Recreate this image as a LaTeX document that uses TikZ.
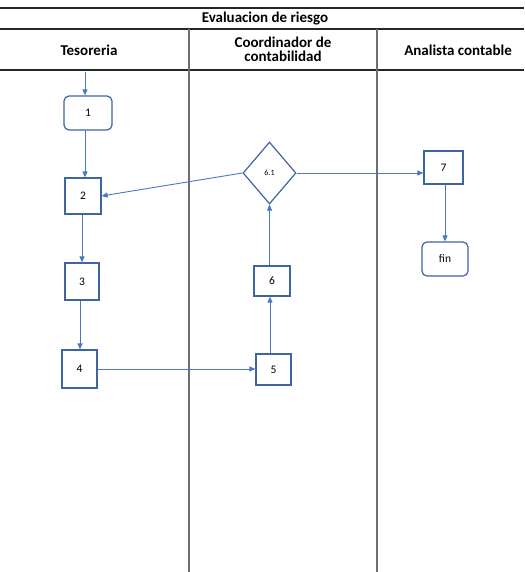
\documentclass[tikz,border=0pt]{standalone}
\usepackage{fontspec}
\setmainfont{Carlito}
\usetikzlibrary{arrows.meta}
\usetikzlibrary{shapes.geometric}
\usetikzlibrary{positioning}

\definecolor{boxblue}{HTML}{3F63A3}
\definecolor{lineblue}{HTML}{4A76C8}
\definecolor{lanegray}{HTML}{6E6E6E}

\begin{document}
\begin{tikzpicture}[x=1pt,y=-1pt,
    paso/.style={draw=boxblue,line width=1.2pt,fill=white,inner sep=0pt,
        minimum width=36pt,minimum height=36pt,font=\fontsize{11.5}{13}\selectfont},
    term/.style={paso,rounded corners=5pt},
    decision/.style={paso,diamond,minimum width=53pt,minimum height=62pt,
        font=\fontsize{8}{9}\selectfont},
    flujo/.style={draw=lineblue,line width=0.9pt,-{Triangle[length=6pt,width=5pt]}},
    encabezado/.style={font=\fontsize{15}{15}\selectfont\bfseries,align=center}]

    % page size
    \useasboundingbox (0,0) rectangle (524,572);

    % table frame
    \draw[line width=1.2pt,black!85] (0,8) -- (524,8);
    \draw[line width=1.2pt,black!85] (0,29) -- (524,29);
    \draw[line width=1.2pt,black!85] (0,70) -- (524,70);
    \foreach \x in {189,377}
        \draw[line width=1.3pt,lanegray] (\x,29) -- (\x,572);

    % headers
    \node[encabezado] (titulo) at (265,18.5) {Evaluacion de riesgo};
    \node[encabezado] (tesoreria) at (89,50) {Tesoreria};
    \node[encabezado] (coordinador) at (283,49.5) {Coordinador de\\[-1pt]contabilidad};
    \node[encabezado] (analista) at (458,50) {Analista contable};

    % steps
    \coordinate (inicio) at (85,72);
    \node[term,minimum width=48pt,minimum height=34pt] (p1) at (88,113) {1};
    \node[paso] (p2) at (83,196) {2};
    \node[paso,minimum width=34pt,minimum height=37pt] (p3) at (82,281.5) {3};
    \node[paso,minimum width=35pt,minimum height=38pt] (p4) at (79.5,369) {4};
    \node[paso,minimum width=35pt,minimum height=31pt] (p5) at (273.5,369.5) {5};
    \node[paso,minimum width=36pt,minimum height=30pt] (p6) at (272,281) {6};
    \node[decision] (p61) at (269.5,173) {6.1};
    \node[paso,minimum width=39pt,minimum height=33pt] (p7) at (443.5,167.5) {7};
    \node[term,minimum width=46pt,minimum height=34pt] (fin) at (445,259) {fin};

    % connectors
    \coordinate (col4) at (80,0);
    \coordinate (col6) at (270,0);
    \draw[flujo] (inicio) -- (inicio |- p1.north);
    \draw[flujo] (p1.south -| inicio) -- (p2.north -| inicio);
    \draw[flujo] (p2.south -| p3) -- (p3.north);
    \draw[flujo] (p3.south -| col4) -- (p4.north -| col4);
    \draw[flujo] (p4.east) -- (p5.west |- p4.east);
    \draw[flujo] (p5.north -| col6) -- (p6.south -| col6);
    \draw[flujo] (p6.north -| p61) -- (p61.south);
    \draw[flujo] (p61.west) -- (p2.east);
    \draw[flujo] (p61.east) -- (p61.east -| p7.west);
    \draw[flujo] (p7.south -| fin) -- (fin.north);

\end{tikzpicture}
\end{document}
